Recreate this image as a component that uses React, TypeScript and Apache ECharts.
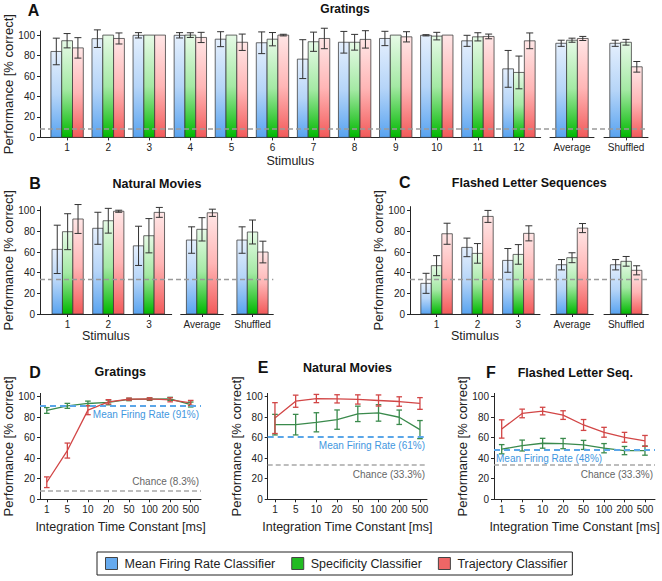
import React, { useEffect, useRef } from 'react';
import * as echarts from 'echarts';

const FONT = '"Liberation Sans", Arial, Helvetica, sans-serif';

// ---------- DATA ----------
const classifiers = ['Mean Firing Rate Classifier', 'Specificity Classifier', 'Trajectory Classifier'];
const yTicks = [0, 20, 40, 60, 80, 100];
const summaryLabels = ['Average', 'Shuffled'];

// Panel A — Gratings
const gratingStimuli = ['1', '2', '3', '4', '5', '6', '7', '8', '9', '10', '11', '12'];
const gratingMFR = [84, 96.5, 99.8, 99.8, 96, 92.5, 76.5, 93, 96.7, 99.8, 94.4, 67];
const gratingMFRErr = [13, 8.6, 2.6, 2.6, 7.3, 10.6, 19, 10.6, 7, 0.6, 5.4, 18];
const gratingSpec = [94.5, 100, 100, 100, 100, 96, 93.5, 93, 100, 99, 98.3, 63.5];
const gratingSpecErr = [7, 0, 0, 2.3, 0, 6.5, 9.4, 7.7, 0, 3.7, 4, 16];
const gratingTraj = [87.5, 96.7, 100, 97.7, 93, 100, 96.7, 95.8, 98.3, 100, 98.7, 94.4];
const gratingTrajErr = [10, 5.4, 0, 5, 8, 0.8, 10, 8.5, 5, 0, 2.3, 7.7];
const gratingSumMFR = [92, 92];
const gratingSumMFRErr = [3, 3];
const gratingSumSpec = [95, 93];
const gratingSumSpecErr = [2, 2.8];
const gratingSumTraj = [96.7, 69];
const gratingSumTrajErr = [2, 5.2];
const gratingChance = 8.3;

// Panel B — Natural Movies
const movieStimuli = ['1', '2', '3'];
const movieMFR = [62.6, 83, 66];
const movieMFRErr = [23.4, 15.5, 19];
const movieSpec = [79.7, 90.3, 75.8];
const movieSpecErr = [17.4, 12, 16.6];
const movieTraj = [92, 99.5, 98.4];
const movieTrajErr = [14, 1, 4.8];
const movieSumMFR = [71.6, 71.6];
const movieSumMFRErr = [12.8, 12.8];
const movieSumSpec = [82, 79.4];
const movieSumSpecErr = [11.3, 11.6];
const movieSumTraj = [98, 60];
const movieSumTrajErr = [3.5, 10.5];
const movieChance = 33.3;

// Panel C — Flashed Letter Sequences
const letterStimuli = ['1', '2', '3'];
const letterMFR = [29.7, 64.5, 51.9];
const letterMFRErr = [9.7, 9, 11.5];
const letterSpec = [46.8, 58.7, 57.7];
const letterSpecErr = [9.7, 9.5, 9.5];
const letterTraj = [77.7, 94.5, 78.1];
const letterTrajErr = [10.2, 5.8, 7.3];
const letterSumMFR = [47.7, 47.7];
const letterSumMFRErr = [5, 5];
const letterSumSpec = [54.5, 51];
const letterSumSpecErr = [4.8, 4.7];
const letterSumTraj = [83.2, 42.3];
const letterSumTrajErr = [4.4, 4.4];
const letterChance = 33.3;

// Panels D, E, F — integration time constant
const timeConstants = ['1', '5', '10', '20', '50', '100', '200', '500'];
const dTraj = [16.6, 47.4, 86.7, 94.8, 97.4, 97.7, 96.8, 93.8];
const dTrajErr = [5.2, 7.3, 4.4, 2.1, 1, 1, 2, 2.4];
const dSpec = [86.4, 90.9, 93.2, 94.2, 97.1, 97.4, 97.7, 92.2];
const dSpecErr = [2.8, 2.4, 2.3, 2.3, 1.2, 1.2, 1.5, 2.4];
const dMFR = 91;
const dChance = 8.3;

const eTraj = [79, 95.4, 98, 97.7, 97.1, 96.1, 95.1, 93.2];
const eTrajErr = [15, 5.9, 4, 4, 4.5, 5.4, 4.6, 5.7];
const eSpec = [72.6, 72.6, 74.9, 77.5, 83.1, 84, 79.8, 67.8];
const eSpecErr = [10, 10, 9.3, 9.4, 7.5, 8, 7, 8.8];
const eMFR = 61;
const eChance = 33.3;

const fTraj = [68.4, 83.5, 85.8, 81.9, 72.3, 65.2, 60.3, 56.8];
const fTrajErr = [8.9, 4.2, 3.7, 4.2, 5.3, 4.8, 4.8, 5.3];
const fSpec = [48.7, 52.3, 54.5, 54.2, 52.9, 49.7, 47.4, 47.4];
const fSpecErr = [4.5, 5.3, 4.8, 5, 4.4, 4.5, 4, 4.5];
const fMFR = 48;
const fChance = 33.3;

// ---------- STYLE ----------
const AX = '#262626';
const BAR_COLORS = [
  ['#e4effd', '#b6d5f8', '#58a3f0'],
  ['#e6fae6', '#a4e9a4', '#00b800'],
  ['#ffe6e6', '#ffb6b6', '#f25a5a'],
];
const LEGEND_COLORS = ['#66aaee', '#22bb22', '#ee6666'];
const RED = '#d24646';
const GREEN = '#3a8a4c';

function buildOption() {
  const grids: any[] = [];
  const xAxes: any[] = [];
  const yAxes: any[] = [];
  const series: any[] = [];
  const graphics: any[] = [];

  const axisLine = { show: true, onZero: false, lineStyle: { color: AX, width: 1 } };
  const tickLabel = { fontSize: 10, color: '#222', fontFamily: FONT };
  const nameStyle = { fontSize: 12.5, color: '#222', fontFamily: FONT };

  const addGrid = (left: number, top: number, width: number, height: number) => {
    grids.push({ left, top, width, height, outerBoundsMode: 'none' });
    return grids.length - 1;
  };
  const shownY = (g: number, max: number) => {
    yAxes.push({
      type: 'value', gridIndex: g, min: 0, max,
      name: 'Performance [% correct]', nameLocation: 'middle', nameGap: 25, nameMoveOverlap: false,
      nameTextStyle: { ...nameStyle, fontSize: 13 },
      axisLine,
      axisTick: { show: true, length: 3, customValues: yTicks, lineStyle: { color: AX } },
      axisLabel: { ...tickLabel, margin: 5, customValues: yTicks },
      splitLine: { show: false },
    });
  };
  const hiddenY = (g: number, max: number) => {
    yAxes.push({ type: 'value', gridIndex: g, min: 0, max, show: false, splitLine: { show: false } });
  };

  const barSeries = (cls: number, axis: number, data: number[][], barW: number) => {
    const [c0, c1, c2] = BAR_COLORS[cls];
    const offset = (cls - 1) * barW;
    return {
      type: 'custom', name: classifiers[cls], xAxisIndex: axis, yAxisIndex: axis,
      data, encode: { x: 0, y: 1 }, silent: true, z: 2,
      renderItem: (_p: any, api: any) => {
        const x = api.value(0);
        const v = api.value(1);
        const e = api.value(2);
        const base = api.coord([x, 0]);
        const top = api.coord([x, v]);
        const cx = base[0] + offset;
        const children: any[] = [{
          type: 'rect',
          shape: { x: cx - barW / 2, y: top[1], width: barW, height: base[1] - top[1] },
          style: {
            fill: {
              type: 'linear', x: 0, y: 0, x2: 0, y2: 1,
              colorStops: [{ offset: 0, color: c0 }, { offset: 0.5, color: c1 }, { offset: 1, color: c2 }],
            },
            stroke: 'rgba(55,55,55,0.75)', lineWidth: 1,
          },
        }];
        if (e > 0) {
          const hi = api.coord([x, v + e])[1];
          const lo = api.coord([x, v - e])[1];
          const s = { stroke: '#333', lineWidth: 1 };
          children.push({ type: 'line', shape: { x1: cx, y1: hi, x2: cx, y2: lo }, style: s });
          children.push({ type: 'line', shape: { x1: cx - 3.5, y1: hi, x2: cx + 3.5, y2: hi }, style: s });
          children.push({ type: 'line', shape: { x1: cx - 3.5, y1: lo, x2: cx + 3.5, y2: lo }, style: s });
        }
        return { type: 'group', children };
      },
    };
  };

  const barPanel = (cfg: any) => {
    const { left, top, height, max, main, sums, full, barW, stimuli, vals, errs, sumVals, sumErrs, chance, nameGap } = cfg;
    const g1 = addGrid(left, top, main.width, height);
    xAxes.push({
      type: 'value', gridIndex: g1, min: main.min, max: main.max,
      name: 'Stimulus', nameLocation: 'middle', nameGap, nameMoveOverlap: false, nameTextStyle: nameStyle,
      axisLine,
      axisTick: { show: true, length: 3, customValues: stimuli.map((_: any, i: number) => i + 1), lineStyle: { color: AX } },
      axisLabel: {
        ...tickLabel, margin: 5, customValues: stimuli.map((_: any, i: number) => i + 1),
        formatter: (v: number) => stimuli[Math.round(v) - 1] ?? '',
      },
      splitLine: { show: false },
    });
    shownY(g1, max);
    for (let c = 0; c < 3; c++) {
      series.push(barSeries(c, g1, stimuli.map((_: any, i: number) => [i + 1, vals[c][i], errs[c][i]]), barW));
    }
    sums.forEach((s: any, k: number) => {
      const g = addGrid(s.left, top, s.width, height);
      xAxes.push({
        type: 'category', gridIndex: g, data: [summaryLabels[k]],
        axisLine,
        axisTick: { show: true, alignWithLabel: true, length: 3, lineStyle: { color: AX } },
        axisLabel: { ...tickLabel, margin: 5 },
        splitLine: { show: false },
      });
      hiddenY(g, max);
      for (let c = 0; c < 3; c++) {
        series.push(barSeries(c, g, [[0, sumVals[c][k], sumErrs[c][k]]], barW));
      }
    });
    const gf = addGrid(left, top, full, height);
    xAxes.push({ type: 'value', gridIndex: gf, min: 0, max: 1, show: false, splitLine: { show: false } });
    hiddenY(gf, max);
    series.push({
      type: 'line', xAxisIndex: gf, yAxisIndex: gf, silent: true, z: 5,
      data: [[0, chance], [1, chance]], symbol: 'none',
      lineStyle: { color: '#9a9a9a', type: [5, 3], width: 1.5 },
    });
  };

  barPanel({
    left: 40, top: 31, height: 106.4, max: 104, barW: 10.8, nameGap: 17,
    main: { width: 500.7, min: 0.34, max: 12.53 },
    sums: [{ left: 550, width: 44 }, { left: 604, width: 44 }], full: 608,
    stimuli: gratingStimuli,
    vals: [gratingMFR, gratingSpec, gratingTraj], errs: [gratingMFRErr, gratingSpecErr, gratingTrajErr],
    sumVals: [gratingSumMFR, gratingSumSpec, gratingSumTraj], sumErrs: [gratingSumMFRErr, gratingSumSpecErr, gratingSumTrajErr],
    chance: gratingChance,
  });
  barPanel({
    left: 40, top: 206.6, height: 107.4, max: 104, barW: 10.4, nameGap: 15,
    main: { width: 131.7, min: 0.32, max: 3.56 },
    sums: [{ left: 180.7, width: 42.6 }, { left: 231.7, width: 41.6 }], full: 233.3,
    stimuli: movieStimuli,
    vals: [movieMFR, movieSpec, movieTraj], errs: [movieMFRErr, movieSpecErr, movieTrajErr],
    sumVals: [movieSumMFR, movieSumSpec, movieSumTraj], sumErrs: [movieSumMFRErr, movieSumSpecErr, movieSumTrajErr],
    chance: movieChance,
  });
  barPanel({
    left: 410, top: 206.6, height: 107.4, max: 104, barW: 10.5, nameGap: 15,
    main: { width: 130, min: 0.35, max: 3.53 },
    sums: [{ left: 550.7, width: 42.6 }, { left: 604, width: 44.3 }], full: 238.3,
    stimuli: letterStimuli,
    vals: [letterMFR, letterSpec, letterTraj], errs: [letterMFRErr, letterSpecErr, letterTrajErr],
    sumVals: [letterSumMFR, letterSumSpec, letterSumTraj], sumErrs: [letterSumMFRErr, letterSumSpecErr, letterSumTrajErr],
    chance: letterChance,
  });

  const errSeries = (axis: number, vals: number[], errs: number[], color: string) => ({
    type: 'custom', xAxisIndex: axis, yAxisIndex: axis, silent: true, z: 4,
    data: vals.map((v, i) => [i, v, errs[i]]), encode: { x: 0, y: 1 },
    renderItem: (_p: any, api: any) => {
      const x = api.value(0);
      const v = api.value(1);
      const e = api.value(2);
      const hi = api.coord([x, v + e]);
      const lo = api.coord([x, v - e]);
      const s = { stroke: color, lineWidth: 1.3 };
      return {
        type: 'group', children: [
          { type: 'line', shape: { x1: hi[0], y1: hi[1], x2: lo[0], y2: lo[1] }, style: s },
          { type: 'line', shape: { x1: hi[0] - 2.8, y1: hi[1], x2: hi[0] + 2.8, y2: hi[1] }, style: s },
          { type: 'line', shape: { x1: lo[0] - 2.8, y1: lo[1], x2: lo[0] + 2.8, y2: lo[1] }, style: s },
        ],
      };
    },
  });

  const linePanel = (cfg: any) => {
    const { left, width, min, max, spec, specErr, traj, trajErr, mfr, chance, mfrPos, chancePos } = cfg;
    const top = 393.4;
    const height = 105.9;
    const g = addGrid(left, top, width, height);
    const idx = timeConstants.map((_, i) => i);
    xAxes.push({
      type: 'value', gridIndex: g, min, max,
      name: 'Integration Time Constant [ms]', nameLocation: 'middle', nameGap: 21, nameMoveOverlap: false, nameTextStyle: nameStyle,
      axisLine,
      axisTick: { show: true, length: 3, customValues: idx, lineStyle: { color: AX } },
      axisLabel: { ...tickLabel, margin: 5, customValues: idx, formatter: (v: number) => timeConstants[Math.round(v)] ?? '' },
      splitLine: { show: false },
    });
    shownY(g, 103);
    const labelBase = { show: true, fontSize: 10, fontFamily: FONT };
    series.push({
      type: 'line', xAxisIndex: g, yAxisIndex: g, silent: true, z: 3,
      data: spec.map((v: number, i: number) => [i, v]), symbol: 'none',
      lineStyle: { color: GREEN, width: 1.3 },
      markLine: {
        silent: true, symbol: 'none', animation: false,
        data: [
          {
            yAxis: mfr,
            lineStyle: { color: '#5aa6e8', type: [6, 4], width: 1.8 },
            label: { ...labelBase, formatter: `Mean Firing Rate (${mfr}%)`, position: mfrPos, color: '#3f97e0', distance: [2, 4] },
          },
          {
            yAxis: chance,
            lineStyle: { color: '#a8a8a8', type: [5, 3], width: 1.5 },
            label: { ...labelBase, formatter: `Chance (${chance}%)`, position: chancePos, color: '#666', distance: [2, 4] },
          },
        ],
      },
    });
    series.push(errSeries(g, spec, specErr, GREEN));
    series.push({
      type: 'line', xAxisIndex: g, yAxisIndex: g, silent: true, z: 3,
      data: traj.map((v: number, i: number) => [i, v]), symbol: 'none',
      lineStyle: { color: RED, width: 1.3 },
    });
    series.push(errSeries(g, traj, trajErr, RED));
  };

  linePanel({ left: 40, width: 161, min: -0.33, max: 7.5, spec: dSpec, specErr: dSpecErr, traj: dTraj, trajErr: dTrajErr, mfr: dMFR, chance: dChance, mfrPos: 'insideEndBottom', chancePos: 'insideEndTop' });
  linePanel({ left: 267.7, width: 159.3, min: -0.35, max: 7.34, spec: eSpec, specErr: eSpecErr, traj: eTraj, trajErr: eTrajErr, mfr: eMFR, chance: eChance, mfrPos: 'insideEndBottom', chancePos: 'insideEndBottom' });
  linePanel({ left: 494, width: 161, min: -0.376, max: 7.49, spec: fSpec, specErr: fSpecErr, traj: fTraj, trajErr: fTrajErr, mfr: fMFR, chance: fChance, mfrPos: 'insideStartBottom', chancePos: 'insideEndBottom' });

  const txt = (text: string, x: number, y: number, size: number) => ({
    type: 'text', x, y, silent: true,
    style: { text, font: `bold ${size}px ${FONT}`, fill: '#111', align: 'center', verticalAlign: 'middle' },
  });
  graphics.push(
    txt('A', 33.5, 10, 16), txt('Gratings', 345, 8.5, 12),
    txt('B', 35, 183, 16), txt('Natural Movies', 157, 183.5, 12.5),
    txt('C', 404.7, 182, 16), txt('Flashed Letter Sequences', 529.3, 182.5, 12.5),
    txt('D', 35, 372, 16), txt('Gratings', 120.3, 372, 12.5),
    txt('E', 263, 367.5, 16), txt('Natural Movies', 347.5, 368, 12.5),
    txt('F', 491, 372, 16), txt('Flashed Letter Seq.', 575.3, 372.5, 12.5),
  );

  return {
    animation: false,
    textStyle: { fontFamily: FONT },
    grid: grids,
    xAxis: xAxes,
    yAxis: yAxes,
    series,
    graphic: graphics,
    legend: {
      left: 97, top: 552, orient: 'horizontal',
      itemWidth: 12, itemHeight: 12, itemGap: 16, icon: 'rect',
      borderColor: '#222', borderWidth: 1, padding: [5, 5, 5, 8],
      selectedMode: false,
      textStyle: { fontSize: 12.5, fontFamily: FONT, color: '#222', padding: [0, 0, 0, 2] },
      data: classifiers.map((name, i) => ({
        name,
        itemStyle: { color: LEGEND_COLORS[i], borderColor: '#444', borderWidth: 1 },
      })),
    },
  };
}

export default function App() {
  const ref = useRef<HTMLDivElement>(null);
  useEffect(() => {
    document.body.style.margin = '0';
    if (!ref.current) return;
    const chart = echarts.init(ref.current, undefined, { renderer: 'svg' });
    chart.setOption(buildOption() as any);
    return () => chart.dispose();
  }, []);
  return <div ref={ref} style={{ width: 662, height: 581, background: '#fff' }} />;
}
